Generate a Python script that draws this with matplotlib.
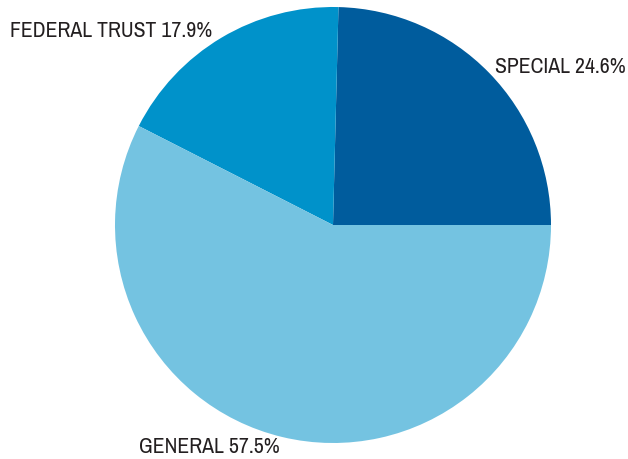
import matplotlib.pyplot as plt

# data
categories = ['SPECIAL', 'FEDERAL TRUST', 'GENERAL']
shares = [24.6, 17.9, 57.5]
colors = ['#005C9D', '#0092CA', '#74C3E1']

plt.rcParams['font.family'] = ['Pragati Narrow', 'Roboto Condensed', 'DejaVu Sans']

fig = plt.figure(figsize=(6.28, 4.59), dpi=100)
ax = fig.add_axes([0, 0, 1, 1])

ax.pie(shares, colors=colors, startangle=0, counterclock=True,
       center=(333, 234), radius=218, frame=True,
       wedgeprops=dict(linewidth=0))
ax.set_xlim(0, 628)
ax.set_ylim(0, 459)
ax.set_aspect('equal')
ax.axis('off')

# label positions (pixel space, y from bottom)
label_pos = [(495, 392), (10, 428), (139, 12)]
for cat, val, (x, y) in zip(categories, shares, label_pos):
    ax.text(x, y, f'{cat} {val}%', ha='left', va='center', fontsize=17,
            color='#231F20')

fig.savefig('out.png', dpi=100)
